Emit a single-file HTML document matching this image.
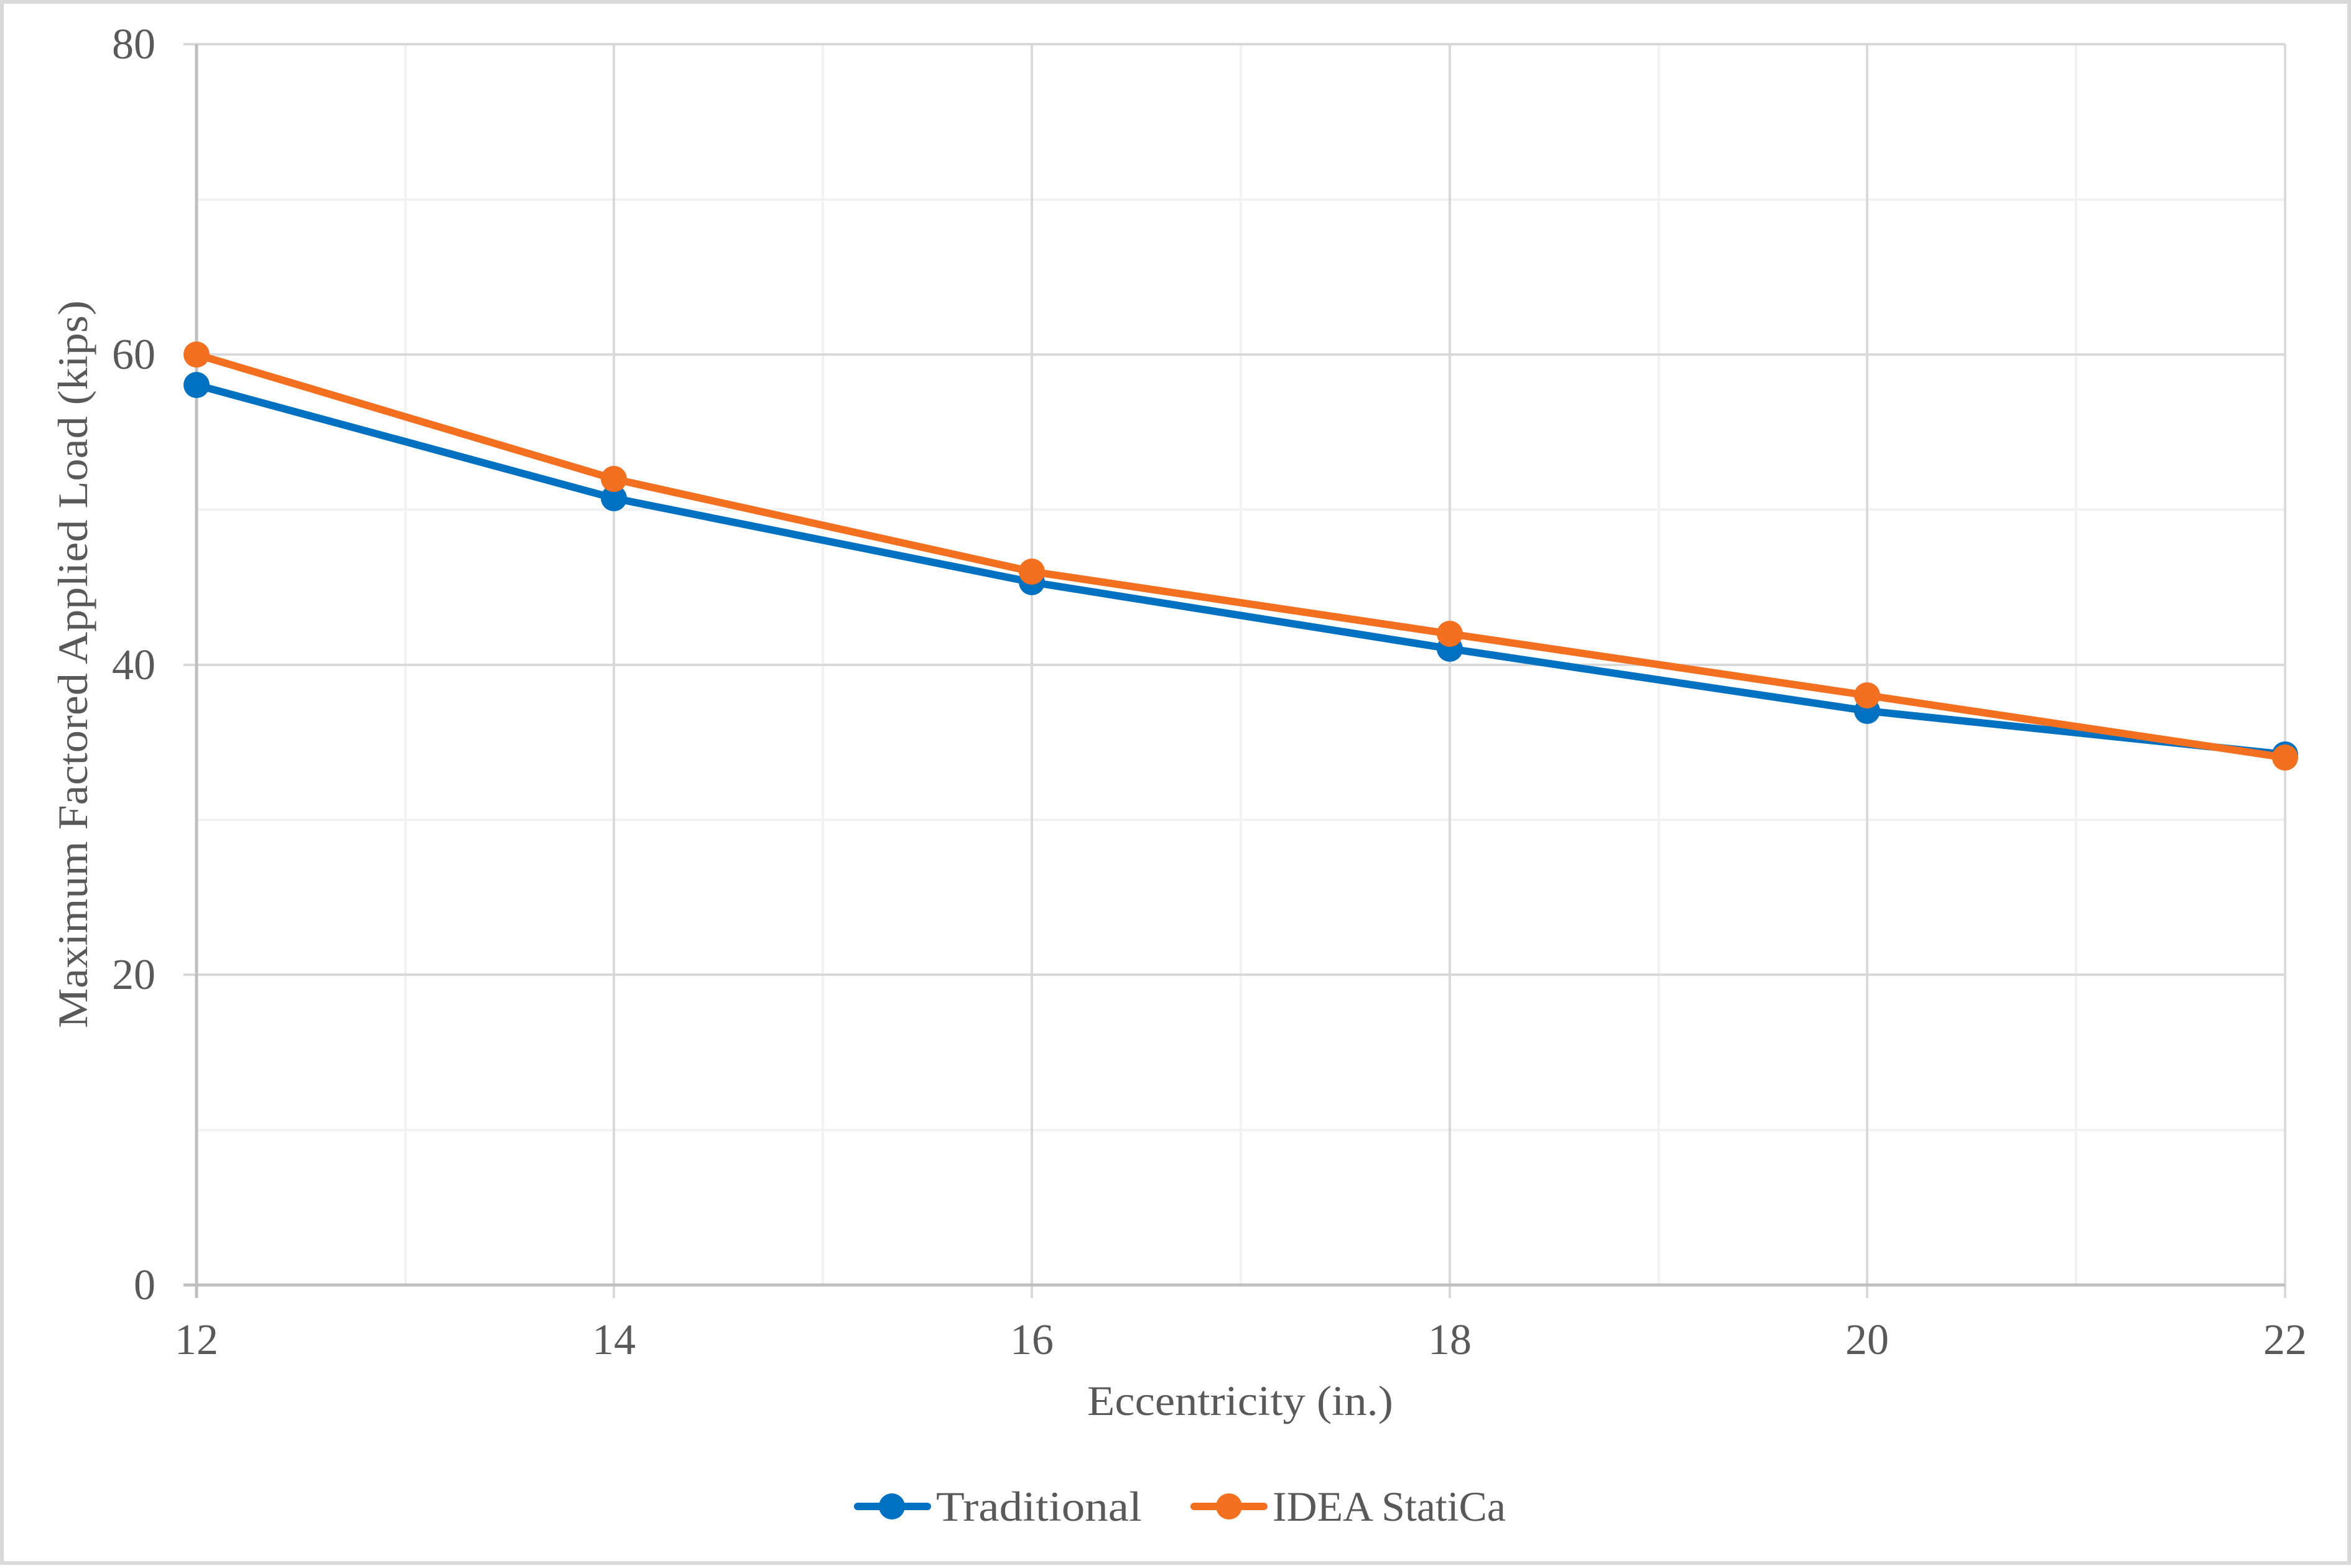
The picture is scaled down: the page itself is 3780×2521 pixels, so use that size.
<!DOCTYPE html>
<html><head><meta charset="utf-8"><style>html,body{margin:0;padding:0;background:#fff}</style></head><body>
<svg width="3780" height="2516" xmlns="http://www.w3.org/2000/svg" font-family="'Liberation Serif', serif" fill="#595959">
<rect x="3" y="3" width="3774" height="2510" fill="#fff" stroke="#d9d9d9" stroke-width="6"/>
<g stroke="#f2f2f2" stroke-width="4">
<line x1="316" y1="1817" x2="3674" y2="1817"/><line x1="316" y1="1318" x2="3674" y2="1318"/>
<line x1="316" y1="819" x2="3674" y2="819"/><line x1="316" y1="321" x2="3674" y2="321"/>
<line x1="652" y1="71" x2="652" y2="2066"/><line x1="1323" y1="71" x2="1323" y2="2066"/>
<line x1="1995" y1="71" x2="1995" y2="2066"/><line x1="2667" y1="71" x2="2667" y2="2066"/>
<line x1="3338" y1="71" x2="3338" y2="2066"/>
</g>
<g stroke="#d9d9d9" stroke-width="4">
<line x1="295" y1="71" x2="3674" y2="71"/><line x1="295" y1="570" x2="3674" y2="570"/>
<line x1="295" y1="1069" x2="3674" y2="1069"/><line x1="295" y1="1567" x2="3674" y2="1567"/>
<line x1="987" y1="71" x2="987" y2="2087"/><line x1="1659" y1="71" x2="1659" y2="2087"/>
<line x1="2331" y1="71" x2="2331" y2="2087"/><line x1="3002" y1="71" x2="3002" y2="2087"/>
<line x1="3674" y1="71" x2="3674" y2="2087"/>
</g>
<g stroke="#bfbfbf" stroke-width="5">
<line x1="316" y1="71" x2="316" y2="2087"/><line x1="295" y1="2066" x2="3674" y2="2066"/>
</g>
<g font-size="70" text-anchor="end">
<text x="250" y="94">80</text><text x="250" y="593">60</text><text x="250" y="1092">40</text>
<text x="250" y="1590">20</text><text x="250" y="2089">0</text>
</g>
<g font-size="70" text-anchor="middle">
<text x="316" y="2177">12</text><text x="987" y="2177">14</text><text x="1659" y="2177">16</text>
<text x="2331" y="2177">18</text><text x="3002" y="2177">20</text><text x="3674" y="2177">22</text>
</g>
<text x="1994" y="2275" font-size="68" text-anchor="middle" textLength="492" lengthAdjust="spacingAndGlyphs">Eccentricity (in.)</text>
<text transform="translate(140,1068) rotate(-90)" font-size="68" text-anchor="middle" textLength="1170" lengthAdjust="spacingAndGlyphs">Maximum Factored Applied Load (kips)</text>
<polyline fill="none" stroke="#0070c0" stroke-width="12" stroke-linejoin="round" points="316,619 987,801 1659,936 2331,1043 3002,1143 3674,1213"/>
<g fill="#0070c0"><circle cx="316" cy="619" r="21"/><circle cx="987" cy="801" r="21"/><circle cx="1659" cy="936" r="21"/><circle cx="2331" cy="1043" r="21"/><circle cx="3002" cy="1143" r="21"/><circle cx="3674" cy="1213" r="21"/></g>
<polyline fill="none" stroke="#f37021" stroke-width="12" stroke-linejoin="round" points="316,570 987,770 1659,919 2331,1019 3002,1118 3674,1218"/>
<g fill="#f37021"><circle cx="316" cy="570" r="21"/><circle cx="987" cy="770" r="21"/><circle cx="1659" cy="919" r="21"/><circle cx="2331" cy="1019" r="21"/><circle cx="3002" cy="1118" r="21"/><circle cx="3674" cy="1218" r="21"/></g>
<line x1="1379" y1="2422" x2="1491" y2="2422" stroke="#0070c0" stroke-width="12" stroke-linecap="round"/>
<circle cx="1434" cy="2422" r="21" fill="#0070c0"/>
<text x="1505" y="2445" font-size="68" textLength="331" lengthAdjust="spacingAndGlyphs">Traditional</text>
<line x1="1920" y1="2422" x2="2032" y2="2422" stroke="#f37021" stroke-width="12" stroke-linecap="round"/>
<circle cx="1976" cy="2422" r="21" fill="#f37021"/>
<text x="2046" y="2445" font-size="68" textLength="375" lengthAdjust="spacingAndGlyphs">IDEA StatiCa</text>
</svg>
</body></html>
